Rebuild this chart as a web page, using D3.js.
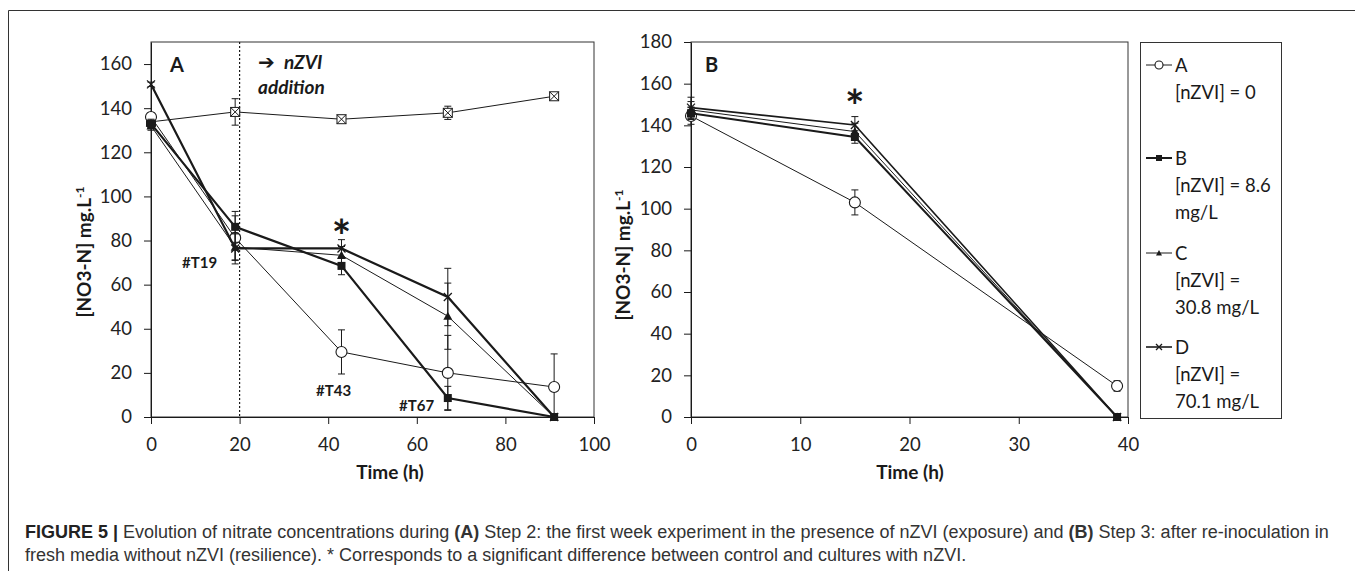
<!DOCTYPE html>
<html>
<head>
<meta charset="utf-8">
<script src="https://cdn.jsdelivr.net/npm/d3@7"></script>
<style>
  body { margin: 0; background: #fff; }
  svg { display: block; }
  .tick text { font-family: Lato, "Open Sans", sans-serif; font-size: 18.5px; fill: #222; }
</style>
</head>
<body>
<div id="chart"></div>
<script>
// panel A : first week with nZVI (exposure)
const timesA = [0, 19, 43, 67, 91];
const ctrlA = [133.8, 138.3, 135, 137.9, 145.4];
const ctrlAErr = [1, 6, 1, 3, 1];
const serAA = [136, 81.2, 29.5, 20, 13.6];
const serAAErr = [2, 10, 10, 17, 15];
const serBA = [133, 86.2, 68.5, 8.6, 0];
const serBAErr = [2, 7, 4, 5.3, 0];
const serCA = [132, 77, 73.3, 45.7, 0];
const serCAErr = [2, 6, 4, 15, 0];
const serDA = [150.8, 76.4, 76.4, 54.4, 0];
const serDAErr = [1, 7, 4, 13, 0];

// panel B : after re-inoculation (resilience)
const timesB = [0, 15, 39];
const serAB = [144.5, 103, 14.9];
const serABErr = [4, 6, 2.5];
const serBB = [145.8, 134.4, 0];
const serBBErr = [3, 3, 0];
const serCB = [147.4, 137, 0];
const serCBErr = [4, 4, 0];
const serDB = [148.5, 140.2, 0];
const serDBErr = [5, 4, 0];

const ticksA = [0, 20, 40, 60, 80, 100];
const ticksB = [0, 10, 20, 30, 40];
const yTicksA = [0, 20, 40, 60, 80, 100, 120, 140, 160];
const yTicksB = [0, 20, 40, 60, 80, 100, 120, 140, 160, 180];

const legendNames = ['A', 'B', 'C', 'D'];
const legendLines = [['[nZVI] = 0'], ['[nZVI] = 8.6', 'mg/L'], ['[nZVI] =', '30.8 mg/L'], ['[nZVI] =', '70.1 mg/L']];

const W = 1355, H = 571;
const ink = '#1a1a1a';
const font = 'Lato, "Open Sans", sans-serif';

const svg = d3.select('#chart').append('svg')
  .attr('width', W)
  .attr('height', H);

// figure border
svg.append('path')
  .attr('d', 'M8.5,' + H + ' V10.5 H' + W)
  .attr('fill', 'none')
  .attr('stroke', '#333')
  .attr('stroke-width', 1);

// marker drawing
function marker(g, type, x, y, s) {
  if (type === 'circle') {
    g.append('circle').attr('cx', x).attr('cy', y).attr('r', s || 5.5)
      .attr('fill', '#fff').attr('stroke', ink).attr('stroke-width', 1.1);
  } else if (type === 'square') {
    const r = s || 4;
    g.append('rect').attr('x', x - r).attr('y', y - r).attr('width', 2 * r).attr('height', 2 * r)
      .attr('fill', ink);
  } else if (type === 'triangle') {
    const r = s || 4.5;
    g.append('path').attr('d', `M${x},${y - r} L${x + r},${y + r * 0.8} L${x - r},${y + r * 0.8} Z`)
      .attr('fill', ink);
  } else if (type === 'cross') {
    const r = s || 4;
    g.append('path').attr('d', `M${x - r},${y - r} L${x + r},${y + r} M${x - r},${y + r} L${x + r},${y - r}`)
      .attr('stroke', ink).attr('stroke-width', 1.3);
  } else if (type === 'xsquare') {
    const r = s || 4.5;
    g.append('rect').attr('x', x - r).attr('y', y - r).attr('width', 2 * r).attr('height', 2 * r)
      .attr('fill', '#fff').attr('stroke', ink).attr('stroke-width', 1);
    g.append('path').attr('d', `M${x - r},${y - r} L${x + r},${y + r} M${x - r},${y + r} L${x + r},${y - r}`)
      .attr('stroke', ink).attr('stroke-width', 1);
  }
}

function drawSeries(g, x, y, times, vals, errs, type, width) {
  const pts = times.map((t, i) => ({ t: t, v: vals[i], e: errs[i] }));
  // error bars
  pts.forEach(p => {
    if (!p.e) return;
    const lo = Math.max(0, p.v - p.e), hi = p.v + p.e;
    g.append('path')
      .attr('d', `M${x(p.t)},${y(lo)} V${y(hi)} M${x(p.t) - 3.5},${y(lo)} H${x(p.t) + 3.5} M${x(p.t) - 3.5},${y(hi)} H${x(p.t) + 3.5}`)
      .attr('stroke', ink).attr('stroke-width', 1).attr('fill', 'none');
  });
  const line = d3.line().x(d => x(d.t)).y(d => y(d.v));
  g.append('path').datum(pts)
    .attr('d', line)
    .attr('fill', 'none')
    .attr('stroke', ink)
    .attr('stroke-width', width);
  pts.forEach(p => marker(g, type, x(p.t), y(p.v)));
}

function axes(g, x, y, xt, yt, left, right, top, bottom) {
  g.append('rect')
    .attr('x', left).attr('y', top)
    .attr('width', right - left).attr('height', bottom - top)
    .attr('fill', 'none').attr('stroke', '#333').attr('stroke-width', 1);

  const ya = g.append('g')
    .attr('transform', `translate(${left},0)`)
    .call(d3.axisLeft(y).tickValues(yt).tickSize(7).tickSizeOuter(0).tickPadding(12));
  ya.selectAll('path, line').attr('stroke', ink);

  const xa = g.append('g')
    .attr('transform', `translate(0,${bottom})`)
    .call(d3.axisBottom(x).tickValues(xt).tickSize(7).tickSizeOuter(0).tickPadding(14));
  xa.selectAll('path, line').attr('stroke', ink);
}

function yTitle(g, xpos, ypos) {
  const t = g.append('text')
    .attr('transform', `translate(${xpos},${ypos}) rotate(-90)`)
    .attr('text-anchor', 'middle')
    .attr('font-family', font)
    .attr('font-weight', 700)
    .attr('font-size', 19)
    .attr('fill', ink);
  t.append('tspan').text('[NO3-N] mg.L');
  t.append('tspan').attr('dy', -7).attr('font-size', 12).text('-1');
}

function xTitle(g, xpos) {
  g.append('text')
    .attr('x', xpos).attr('y', 479)
    .attr('text-anchor', 'middle')
    .attr('font-family', font)
    .attr('font-weight', 700)
    .attr('font-size', 19)
    .attr('fill', ink)
    .text('Time (h)');
}

function label(g, txt, x, y, size, weight, style) {
  return g.append('text')
    .attr('x', x).attr('y', y)
    .attr('font-family', font)
    .attr('font-size', size)
    .attr('font-weight', weight || 700)
    .attr('font-style', style || 'normal')
    .attr('fill', ink)
    .text(txt);
}

// ---------- panel A ----------
const xA = d3.scaleLinear().domain([0, 100]).range([151, 594]);
const yA = d3.scaleLinear().domain([0, 170]).range([417, 42]);
const gA = svg.append('g');
axes(gA, xA, yA, ticksA, yTicksA, 151, 594, 42, 417);

gA.append('line')
  .attr('x1', xA(20)).attr('x2', xA(20))
  .attr('y1', yA(170)).attr('y2', yA(0))
  .attr('stroke', ink).attr('stroke-width', 1.2).attr('stroke-dasharray', '2,2');

drawSeries(gA, xA, yA, timesA, ctrlA, ctrlAErr, 'xsquare', 1);
drawSeries(gA, xA, yA, timesA, serAA, serAAErr, 'circle', 1);
drawSeries(gA, xA, yA, timesA, serCA, serCAErr, 'triangle', 1);
drawSeries(gA, xA, yA, timesA, serBA, serBAErr, 'square', 2.2);
drawSeries(gA, xA, yA, timesA, serDA, serDAErr, 'cross', 2.2);

yTitle(gA, 91, 252);
xTitle(gA, 390);
label(gA, 'A', 170, 72, 20);
label(gA, '\u2794', 258, 69, 20).attr('font-family', '"DejaVu Sans", sans-serif');
label(gA, 'nZVI', 284, 69, 19, 700, 'italic');
label(gA, 'addition', 258, 94, 19, 700, 'italic');
label(gA, '#T19', 182, 268, 15);
label(gA, '#T43', 316, 396, 15);
label(gA, '#T67', 399, 411, 15);
label(gA, '*', xA(43), 253, 46).attr('text-anchor', 'middle');

// ---------- panel B ----------
const xB = d3.scaleLinear().domain([0, 40]).range([691, 1128]);
const yB = d3.scaleLinear().domain([0, 180]).range([417, 42]);
const gB = svg.append('g');
axes(gB, xB, yB, ticksB, yTicksB, 691, 1128, 42, 417);

drawSeries(gB, xB, yB, timesB, serAB, serABErr, 'circle', 1);
drawSeries(gB, xB, yB, timesB, serCB, serCBErr, 'triangle', 1);
drawSeries(gB, xB, yB, timesB, serBB, serBBErr, 'square', 2);
drawSeries(gB, xB, yB, timesB, serDB, serDBErr, 'cross', 1.6);

yTitle(gB, 630, 255);
xTitle(gB, 910);
label(gB, 'B', 705, 72, 20);
label(gB, '*', xB(15), 123, 46).attr('text-anchor', 'middle');

// ---------- legend ----------
const gL = svg.append('g');
gL.append('rect')
  .attr('x', 1140.5).attr('y', 42.5).attr('width', 141).attr('height', 376)
  .attr('fill', 'none').attr('stroke', '#333').attr('stroke-width', 1);
const legTypes = ['circle', 'square', 'triangle', 'cross'];
const legWidths = [1, 2, 1, 1.6];
const legY = [65, 158, 253, 347];
legendNames.forEach((n, i) => {
  const y = legY[i];
  gL.append('line').attr('x1', 1146).attr('x2', 1172).attr('y1', y).attr('y2', y)
    .attr('stroke', ink).attr('stroke-width', legWidths[i]);
  const s = legTypes[i] === 'circle' ? 4 : 3;
  marker(gL, legTypes[i], 1159, y, s);
  label(gL, n, 1175, y + 7, 18.5, 400);
  legendLines[i].forEach((l, j) => {
    label(gL, l, 1175, y + 34 + j * 27, 18.5, 400);
  });
});

// ---------- caption ----------
const cap = svg.append('text')
  .attr('x', 25).attr('y', 538)
  .attr('font-family', '"Liberation Sans", Arial, sans-serif')
  .attr('font-size', 18)
  .attr('fill', '#333');
cap.append('tspan').attr('font-weight', 700).attr('fill', '#222').text('FIGURE 5 | ');
cap.append('tspan').text('Evolution of nitrate concentrations during ');
cap.append('tspan').attr('font-weight', 700).text('(A)');
cap.append('tspan').text(' Step 2: the first week experiment in the presence of nZVI (exposure) and ');
cap.append('tspan').attr('font-weight', 700).text('(B)');
cap.append('tspan').text(' Step 3: after re-inoculation in');
svg.append('text')
  .attr('x', 25).attr('y', 561)
  .attr('font-family', '"Liberation Sans", Arial, sans-serif')
  .attr('font-size', 18)
  .attr('fill', '#333')
  .text('fresh media without nZVI (resilience). * Corresponds to a significant difference between control and cultures with nZVI.');
</script>
</body>
</html>
